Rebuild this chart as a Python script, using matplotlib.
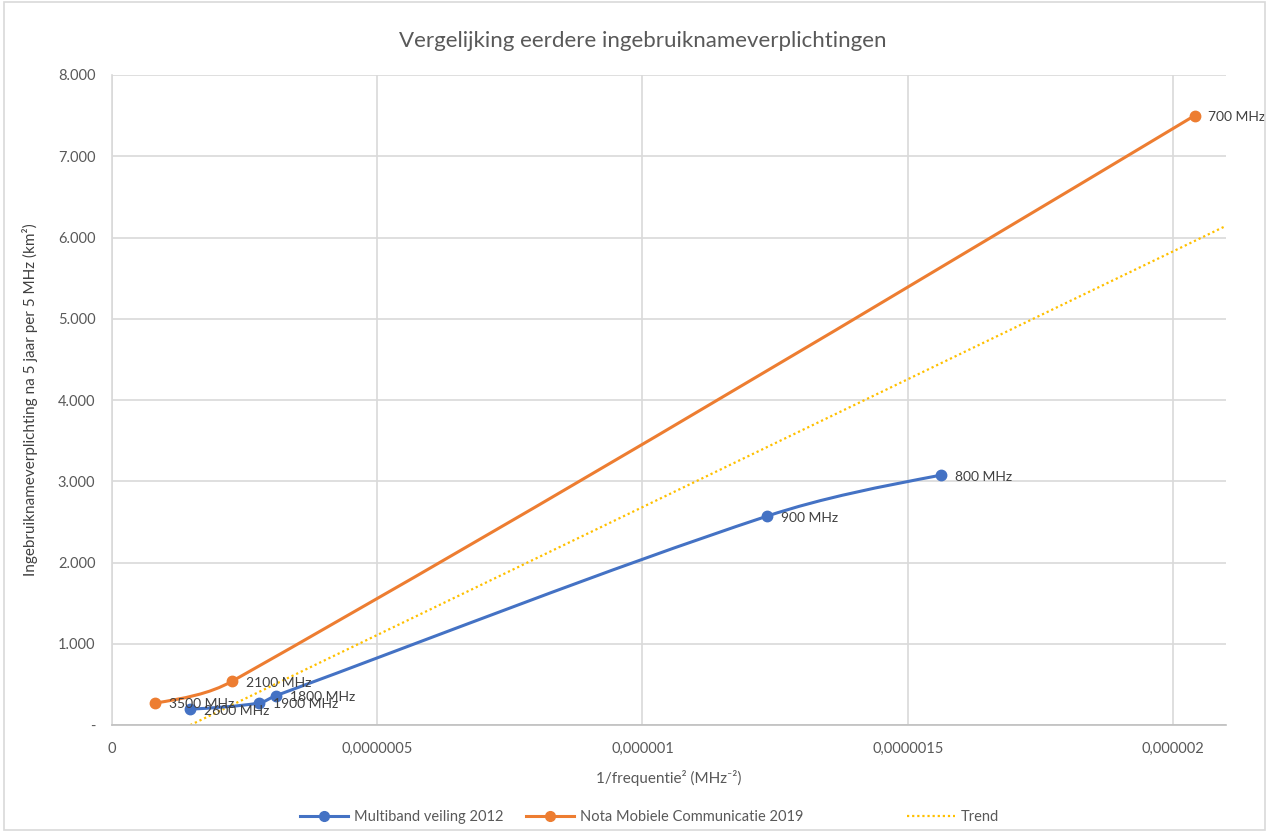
import numpy as np
import matplotlib.pyplot as plt
from matplotlib.path import Path
from matplotlib.patches import PathPatch, Rectangle
from matplotlib.lines import Line2D
from matplotlib.ticker import FuncFormatter, FixedLocator

plt.rcParams['font.family'] = ['Lato', 'DejaVu Sans']

# data: x = 1/f^2 (MHz^-2), y = km2 per 5 MHz after 5 years
multi_labels = ["800 MHz", "900 MHz", "1800 MHz", "1900 MHz", "2600 MHz"]
multi_x = [1.5625e-6, 1.2346e-6, 3.086e-7, 2.770e-7, 1.479e-7]
multi_y = [3075, 2570, 360, 270, 195]

nota_labels = ["700 MHz", "2100 MHz", "3500 MHz"]
nota_x = [2.0408e-6, 2.268e-7, 8.16e-8]
nota_y = [7500, 540, 270]

BLUE = "#4472C4"
ORANGE = "#ED7D31"
YELLOW = "#FFC000"
GRID = "#D9D9D9"
TXT = "#595959"

XMAX = 2.1e-6
YMAX = 8000
W, H = 1269, 832
AX_L, AX_R, AX_T, AX_B = 112, 1226, 75, 725


def smooth_path(xs, ys):
    # Excel-like smoothed line: cubic bezier segments, tangents from neighbours
    order = np.argsort(xs)
    sx = np.asarray(xs)[order] / XMAX * (AX_R - AX_L)
    sy = np.asarray(ys)[order] / YMAX * (AX_B - AX_T)
    P = np.column_stack([sx, sy])
    n = len(P)
    tang = []
    for i in range(n):
        d = P[min(i + 1, n - 1)] - P[max(i - 1, 0)]
        tang.append(d / np.hypot(*d))
    verts = [P[0]]
    codes = [Path.MOVETO]
    for i in range(n - 1):
        seg = np.hypot(*(P[i + 1] - P[i])) / 3
        c1 = P[i] + tang[i] * seg
        c2 = P[i + 1] - tang[i + 1] * seg
        # free ends: aim at the inner control point
        if i == 0:
            c1 = P[i] + (c2 - P[i]) / 2
        if i == n - 2:
            c2 = P[i + 1] + (c1 - P[i + 1]) / 2
        verts += [c1, c2, P[i + 1]]
        codes += [Path.CURVE4] * 3
    verts = np.array(verts)
    verts[:, 0] = verts[:, 0] / (AX_R - AX_L) * XMAX
    verts[:, 1] = verts[:, 1] / (AX_B - AX_T) * YMAX
    return Path(verts, codes)


fig = plt.figure(figsize=(W / 100, H / 100), dpi=100)
ax = fig.add_axes([AX_L / W, 1 - AX_B / H, (AX_R - AX_L) / W, (AX_B - AX_T) / H])

ax.set_xlim(0, XMAX)
ax.set_ylim(0, YMAX)

# trend over all points
all_x = np.array(multi_x + nota_x)
all_y = np.array(multi_y + nota_y)
k, b = np.polyfit(all_x, all_y, 1)
tx = np.array([0, XMAX])
ax.plot(tx, k * tx + b, color=YELLOW, lw=1.6, ls=(0, (1, 1.3)), zorder=2)

for xs, ys, col in [(multi_x, multi_y, BLUE), (nota_x, nota_y, ORANGE)]:
    ax.add_patch(PathPatch(smooth_path(xs, ys), fill=False, edgecolor=col, lw=2.2, zorder=3))
    ax.plot(xs, ys, 'o', color=col, ms=7.5, zorder=4)

for lbls, xs, ys in [(multi_labels, multi_x, multi_y), (nota_labels, nota_x, nota_y)]:
    for t, x, y in zip(lbls, xs, ys):
        ax.annotate(t, (x, y), xytext=(10, -1), textcoords='offset points',
                    va='center', ha='left', fontsize=10, color="#404040", zorder=5)

ax.xaxis.set_major_locator(FixedLocator([0, 5e-7, 1e-6, 1.5e-6, 2e-6]))
x_ticklabels = ["0", "0,0000005", "0,000001", "0,0000015", "0,000002"]
ax.xaxis.set_major_formatter(FuncFormatter(lambda v, p: x_ticklabels[p] if p is not None and p < 5 else ""))
ax.yaxis.set_major_locator(FixedLocator(np.arange(0, 8001, 1000)))
ax.yaxis.set_major_formatter(FuncFormatter(lambda v, p: "-" if v == 0 else f"{int(v):,}".replace(",", ".")))

ax.grid(True, color=GRID, lw=1.2)
ax.set_axisbelow(True)
for s in ['top', 'right']:
    ax.spines[s].set_visible(False)
ax.spines['left'].set_color(GRID)
ax.spines['left'].set_linewidth(1.2)
ax.spines['bottom'].set_color("#BFBFBF")
ax.spines['bottom'].set_linewidth(1.2)
ax.tick_params(length=0, labelsize=10.5, labelcolor=TXT, pad=12)

ax.set_xlabel("1/frequentie² (MHz⁻²)", fontsize=11, color=TXT, labelpad=10)
ax.set_ylabel("Ingebruiknameverplichting na 5 jaar per 5 MHz (km²)", fontsize=11, color="#404040", labelpad=14)
fig.text(643 / W, 1 - 41 / H, "Vergelijking eerdere ingebruiknameverplichtingen",
         ha='center', va='center', fontsize=16, color=TXT)

# legend entries placed like the original
entries = [
    (Line2D([], [], color=BLUE, lw=2.2, marker='o', ms=7), "Multiband veiling 2012", 300),
    (Line2D([], [], color=ORANGE, lw=2.2, marker='o', ms=7), "Nota Mobiele Communicatie 2019", 526),
    (Line2D([], [], color=YELLOW, lw=1.6, ls=(0, (1, 1.3))), "Trend", 907),
]
for h, lab, px in entries:
    fig.legend([h], [lab], loc='center left', bbox_to_anchor=(px / W, 1 - 817 / H),
               frameon=False, fontsize=10.5, labelcolor=TXT, borderpad=0, borderaxespad=0,
               handlelength=3.3, handletextpad=0.4)

fig.patches.append(Rectangle((4 / W, 2 / H), (W - 8) / W, (H - 4) / H, transform=fig.transFigure,
                             fill=False, edgecolor=GRID, lw=1.2))

fig.savefig("out.png", dpi=100)
